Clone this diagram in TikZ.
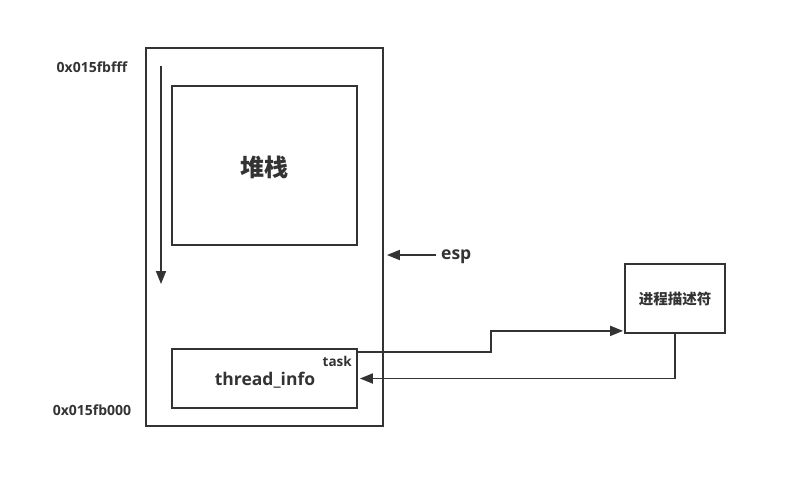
\documentclass[tikz,border=0pt]{standalone}
\usepackage{fontspec}
\setmainfont{Open Sans}
\newfontfamily\cjk{Noto Sans CJK SC}
\usetikzlibrary{arrows.meta}
\definecolor{ink}{HTML}{333333}
\tikzset{
  box/.style={draw=ink, line width=1.8pt, inner sep=0pt},
  lbl/.style={text=ink, inner sep=0pt, font=\bfseries},
  link/.style={draw=ink, line width=1.8pt, -{Triangle[length=13pt,width=10pt]}}
}
\begin{document}
\begin{tikzpicture}[x=1pt,y=-1pt]
  \useasboundingbox (0,0) rectangle (787,488);
  % memory block
  \node[box, minimum width=237pt, minimum height=378pt] (outer) at (264.5,237) {};
  % stack area
  \node[box, minimum width=185pt, minimum height=159pt] (stack) at (264.5,165.5) {};
  \node[lbl, font=\cjk\bfseries\fontsize{24}{28}\selectfont] (stacklbl) at (264,167) {堆栈};
  % growth direction
  \coordinate (growtop) at (161,66);
  \coordinate (growbot) at (161,284);
  \draw[link] (growtop) -- (growbot);
  % thread_info
  \node[box, minimum width=185pt, minimum height=59pt] (info) at (264.5,378.5) {};
  \node[lbl, font=\bfseries\fontsize{17.5}{20}\selectfont] (infolbl) at (265,380) {thread\_info};
  \node[lbl, font=\bfseries\fontsize{13.5}{16}\selectfont, anchor=east] (task) at (352,361) {task};
  % addresses
  \node[lbl, font=\bfseries\fontsize{14}{16}\selectfont] (top) at (92,67) {0x015fbfff};
  \node[lbl, font=\bfseries\fontsize{14}{16}\selectfont] (base) at (92,410) {0x015fb000};
  % esp
  \node[lbl, font=\bfseries\fontsize{17.5}{20}\selectfont, anchor=west] (esp) at (441,257) {esp};
  \draw[link] ([xshift=-5pt]esp.west |- 0,255) -- ([xshift=3pt]outer.east |- 0,255);
  % process descriptor
  \node[box, minimum width=100pt, minimum height=69pt] (proc) at (675,298.5) {};
  \node[lbl, font=\cjk\bfseries\fontsize{14.5}{17}\selectfont] (proclbl) at (675,299) {进程描述符};
  % pointers
  \draw[link] ([yshift=-4pt]info.north east) -- ++(133,0) |- ([yshift=3pt,xshift=-1pt]proc.south west);
  \draw[link] (proc.south) |- ([xshift=2pt]info.east);
\end{tikzpicture}
\end{document}
